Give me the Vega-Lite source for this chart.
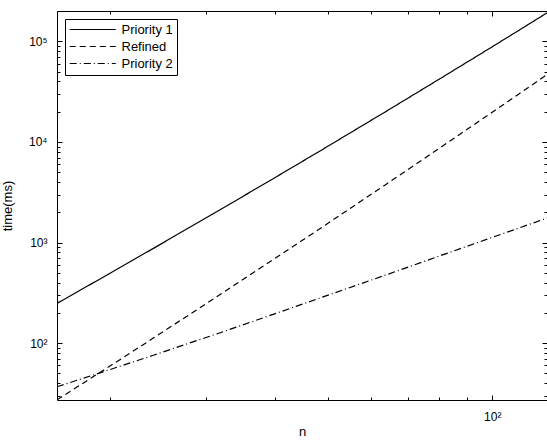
{
  "$schema": "https://vega.github.io/schema/vega-lite/v6.json",
  "autosize": {"type": "none"},
  "padding": {"left": 57, "top": 11, "right": 0, "bottom": 40},
  "width": 490,
  "height": 389,
  "background": "white",
  "config": {
    "view": {"stroke": null},
    "axis": {"labelFont": "Liberation Sans", "titleFont": "Liberation Sans", "labelColor": "black", "titleColor": "black", "domainColor": "black", "tickColor": "black", "grid": false, "titleFontWeight": "normal", "domainWidth": 1, "tickWidth": 1}
  },
  "data": {"values": [
    {"series": "Priority 1", "n": 16, "t": 248},
    {"series": "Priority 1", "n": 20, "t": 494},
    {"series": "Priority 1", "n": 24, "t": 873},
    {"series": "Priority 1", "n": 32, "t": 2161},
    {"series": "Priority 1", "n": 40, "t": 4404},
    {"series": "Priority 1", "n": 48, "t": 7918},
    {"series": "Priority 1", "n": 64, "t": 20220},
    {"series": "Priority 1", "n": 80, "t": 42220},
    {"series": "Priority 1", "n": 96, "t": 77400},
    {"series": "Priority 1", "n": 112, "t": 129700},
    {"series": "Priority 1", "n": 128, "t": 203700},
    {"series": "Refined", "n": 16, "t": 27.2},
    {"series": "Refined", "n": 20, "t": 59.0},
    {"series": "Refined", "n": 24, "t": 111.9},
    {"series": "Refined", "n": 32, "t": 310.4},
    {"series": "Refined", "n": 40, "t": 690.5},
    {"series": "Refined", "n": 48, "t": 1332},
    {"series": "Refined", "n": 64, "t": 3804},
    {"series": "Refined", "n": 80, "t": 8648},
    {"series": "Refined", "n": 96, "t": 17010},
    {"series": "Refined", "n": 112, "t": 30210},
    {"series": "Refined", "n": 128, "t": 49890},
    {"series": "Priority 2", "n": 16, "t": 36.7},
    {"series": "Priority 2", "n": 20, "t": 54.4},
    {"series": "Priority 2", "n": 24, "t": 75.5},
    {"series": "Priority 2", "n": 32, "t": 128},
    {"series": "Priority 2", "n": 40, "t": 195},
    {"series": "Priority 2", "n": 48, "t": 276},
    {"series": "Priority 2", "n": 64, "t": 477},
    {"series": "Priority 2", "n": 80, "t": 733},
    {"series": "Priority 2", "n": 96, "t": 1040},
    {"series": "Priority 2", "n": 112, "t": 1397},
    {"series": "Priority 2", "n": 128, "t": 1807}
  ]},
  "resolve": {"axis": {"x": "independent", "y": "independent"}},
  "layer": [
    {
      "mark": {"type": "line", "clip": true, "color": "black", "strokeWidth": 1.2},
      "encoding": {
        "x": {"field": "n", "type": "quantitative",
          "scale": {"type": "log", "domain": [16, 125.9], "nice": false},
          "axis": {"orient": "bottom", "values": [100], "ticks": false, "domain": true, "labelPadding": 11, "labelFontSize": 12,
            "labelExpr": "'10²'", "title": "n", "titleFontSize": 13, "titleBaseline": "alphabetic", "titleY": 35}},
        "y": {"field": "t", "type": "quantitative",
          "scale": {"type": "log", "domain": [27.1, 201100], "nice": false},
          "axis": {"orient": "left", "values": [100, 1000, 10000, 100000], "ticks": false, "domain": true, "labelPadding": 10, "labelFontSize": 12,
            "labelExpr": "datum.value == 100 ? '10²' : datum.value == 1000 ? '10³' : datum.value == 10000 ? '10⁴' : '10⁵'",
            "title": "time(ms)", "titleFontSize": 13, "titleX": -43}},
        "strokeDash": {"field": "series", "type": "nominal",
          "scale": {"domain": ["Priority 1", "Refined", "Priority 2"], "range": [[1, 0], [6, 4], [7, 3, 1, 3]]},
          "legend": {"orient": "none", "legendX": 8, "legendY": 8, "title": null, "symbolType": "M -4 0 H 4", "symbolSize": 132.25,
            "symbolOffset": 17.25, "symbolStrokeWidth": 1.2, "symbolStrokeColor": "black", "symbolFillColor": "transparent",
            "labelFont": "Liberation Sans", "labelFontSize": 13, "labelColor": "black",
            "labelOffset": 22.25, "padding": 4, "strokeColor": "black", "fillColor": "white", "rowPadding": 3}}
      }
    },
    {
      "mark": {"type": "point", "opacity": 0, "clip": true},
      "encoding": {
        "x": {"field": "n", "type": "quantitative",
          "scale": {"type": "log", "domain": [16, 125.9], "nice": false},
          "axis": {"orient": "bottom", "values": [20, 30, 40, 50, 60, 70, 80, 90, 100], "labels": false, "domain": false, "title": null,
            "tickSize": {"condition": {"test": "datum.value == 100", "value": -5}, "value": -3}}},
        "y": {"field": "t", "type": "quantitative",
          "scale": {"type": "log", "domain": [27.1, 201100], "nice": false},
          "axis": {"orient": "left", "values": [30, 40, 50, 60, 70, 80, 90, 100, 200, 300, 400, 500, 600, 700, 800, 900, 1000, 2000, 3000, 4000, 5000, 6000, 7000, 8000, 9000, 10000, 20000, 30000, 40000, 50000, 60000, 70000, 80000, 90000, 100000, 200000],
            "labels": false, "domain": false, "title": null,
            "tickSize": {"condition": {"test": "indexof([100, 1000, 10000, 100000], datum.value) >= 0", "value": -5}, "value": -3}}}
      }
    },
    {
      "mark": {"type": "point", "opacity": 0, "clip": true},
      "encoding": {
        "x": {"field": "n", "type": "quantitative",
          "scale": {"type": "log", "domain": [16, 125.9], "nice": false},
          "axis": {"orient": "top", "values": [20, 30, 40, 50, 60, 70, 80, 90, 100], "labels": false, "domain": true, "title": null,
            "tickSize": {"condition": {"test": "datum.value == 100", "value": -5}, "value": -3}}},
        "y": {"field": "t", "type": "quantitative",
          "scale": {"type": "log", "domain": [27.1, 201100], "nice": false},
          "axis": {"orient": "right", "values": [30, 40, 50, 60, 70, 80, 90, 100, 200, 300, 400, 500, 600, 700, 800, 900, 1000, 2000, 3000, 4000, 5000, 6000, 7000, 8000, 9000, 10000, 20000, 30000, 40000, 50000, 60000, 70000, 80000, 90000, 100000, 200000],
            "labels": false, "domain": true, "title": null,
            "tickSize": {"condition": {"test": "indexof([100, 1000, 10000, 100000], datum.value) >= 0", "value": -5}, "value": -3}}}
      }
    }
  ]
}
